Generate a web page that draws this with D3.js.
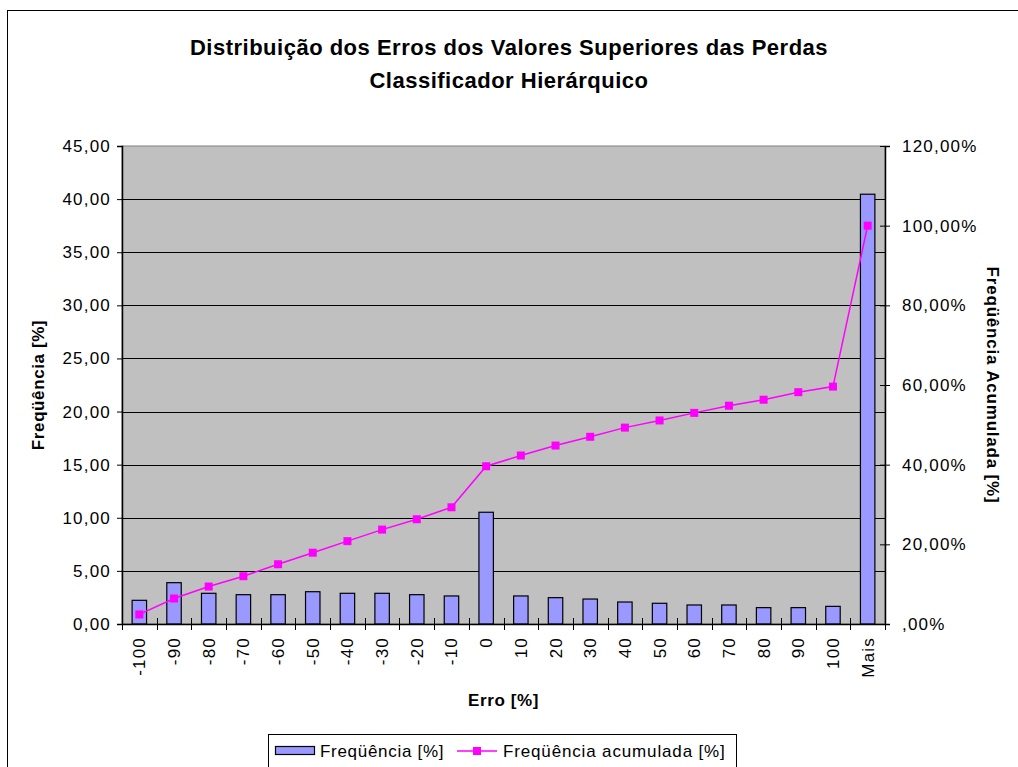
<!DOCTYPE html>
<html><head><meta charset="utf-8">
<script src="https://cdn.jsdelivr.net/npm/d3@7"></script>
<style>
html,body{margin:0;padding:0;background:#fff;}
text{font-family:"Liberation Sans",Arial,sans-serif;fill:#000;}
</style></head>
<body><svg id="c" width="1018" height="767"></svg>
<script>
const categories = ["-100","-90","-80","-70","-60","-50","-40","-30","-20","-10","0","10","20","30","40","50","60","70","80","90","100","Mais"];
const frequencia = [2.23,3.89,2.89,2.76,2.76,3.04,2.89,2.89,2.76,2.64,10.52,2.64,2.48,2.35,2.07,1.95,1.79,1.79,1.54,1.54,1.66,40.46];
const acumulada = [2.4,6.4,9.4,12.0,15.0,17.9,20.8,23.7,26.3,29.3,39.6,42.3,44.8,47.0,49.3,51.1,53.0,54.8,56.3,58.2,59.6,100.0];
const leftTicks = [0,5,10,15,20,25,30,35,40,45];
const leftTickLabels = ["0,00","5,00","10,00","15,00","20,00","25,00","30,00","35,00","40,00","45,00"];
const rightTicks = [0,20,40,60,80,100,120];
const rightTickLabels = [",00%","20,00%","40,00%","60,00%","80,00%","100,00%","120,00%"];
const titleLines = ["Distribuição dos Erros dos Valores Superiores das Perdas","Classificador Hierárquico"];

const FONT = "'Liberation Sans',Arial,sans-serif";
const svg = d3.select("#c");
const L = 122, R = 885, T = 146, B = 624;
const x = d3.scaleBand().domain(categories).range([L, R]).padding(0);
const y = d3.scaleLinear().domain([0, 45]).range([B, T]);
const y2 = d3.scaleLinear().domain([0, 120]).range([B, T]);

// outer border
svg.append("rect").attr("x",7.5).attr("y",10.5).attr("width",1200).attr("height",1000)
  .attr("fill","#fff").attr("stroke","#000").attr("stroke-width",1);

// title
svg.append("g").selectAll("text").data(titleLines).join("text")
  .attr("x",509).attr("y",(d,i)=>55+i*33).attr("text-anchor","middle")
  .attr("font-size","22px").attr("font-weight","bold").attr("letter-spacing","0.5px")
  .text(d=>d);

// plot area
svg.append("rect").attr("x",L).attr("y",T).attr("width",R-L).attr("height",B-T)
  .attr("fill","#C0C0C0").attr("stroke","#808080").attr("stroke-width",1);

// gridlines
svg.append("g").selectAll("line").data(leftTicks.filter(t=>t>0 && t<45)).join("line")
  .attr("x1",L).attr("x2",R).attr("y1",d=>Math.round(y(d))+0.5).attr("y2",d=>Math.round(y(d))+0.5)
  .attr("stroke","#000").attr("stroke-width",1);

// bars
const bw = x.bandwidth()/2.4;
svg.append("g").selectAll("rect").data(categories).join("rect")
  .attr("x",(d)=>x(d)+x.bandwidth()/2-bw/2)
  .attr("y",(d,i)=>y(frequencia[i]))
  .attr("width",bw)
  .attr("height",(d,i)=>B-y(frequencia[i]))
  .attr("fill","#9999FF").attr("stroke","#000").attr("stroke-width",1.2);

// left axis
const gl = svg.append("g").attr("transform",`translate(${L},0)`)
  .call(d3.axisLeft(y).tickValues(leftTicks).tickFormat((d,i)=>leftTickLabels[i]).tickSize(5).tickPadding(6));
gl.select(".domain").attr("stroke","#000").attr("stroke-width",1.5);
gl.selectAll(".tick line").attr("stroke","#000");
gl.selectAll(".tick text").attr("font-size","17px").attr("letter-spacing","1.2px").attr("font-family",FONT);

// right axis
const gr = svg.append("g").attr("transform",`translate(${R},0)`)
  .call(d3.axisRight(y2).tickValues(rightTicks).tickFormat((d,i)=>rightTickLabels[i]).tickSize(5).tickPadding(12));
gr.select(".domain").attr("stroke","#000").attr("stroke-width",1.5);
gr.selectAll(".tick line").attr("stroke","#000").attr("x1",-5);
gr.selectAll(".tick text").attr("font-size","17px").attr("letter-spacing","1.2px").attr("font-family",FONT);

// bottom axis
const gb = svg.append("g").attr("transform",`translate(0,${B})`)
  .call(d3.axisBottom(x).tickSize(0).tickPadding(0));
gb.select(".domain").attr("stroke","#000").attr("stroke-width",1.5);
gb.selectAll(".tick text").attr("font-size","17px").attr("letter-spacing","1.2px")
  .attr("font-family",FONT)
  .attr("text-anchor","end").attr("dy",null).attr("y",0)
  .attr("transform","translate(6,13) rotate(-90)");
// category boundary ticks
const bounds = categories.map(c=>x(c)).concat([R]);
svg.append("g").selectAll("line").data(bounds).join("line")
  .attr("x1",d=>Math.round(d)+0.5).attr("x2",d=>Math.round(d)+0.5)
  .attr("y1",B-6).attr("y2",B+6).attr("stroke","#000").attr("stroke-width",1);

// line
const line = d3.line().x((d,i)=>x(categories[i])+x.bandwidth()/2).y(d=>y2(d));
svg.append("path").datum(acumulada).attr("d",line).attr("fill","none")
  .attr("stroke","#FF00FF").attr("stroke-width",1.5);
svg.append("g").selectAll("rect").data(acumulada).join("rect")
  .attr("x",(d,i)=>x(categories[i])+x.bandwidth()/2-4).attr("y",d=>y2(d)-4)
  .attr("width",8).attr("height",8).attr("fill","#FF00FF");

// axis titles
svg.append("text").attr("transform",`translate(44,${(T+B)/2}) rotate(-90)`).attr("text-anchor","middle")
  .attr("font-size","17px").attr("font-weight","bold").attr("letter-spacing","0.6px").text("Freqüência [%]");
svg.append("text").attr("transform",`translate(987,${(T+B)/2}) rotate(90)`).attr("text-anchor","middle")
  .attr("font-size","17px").attr("font-weight","bold").attr("letter-spacing","0.8px").text("Freqüência Acumulada [%]");
svg.append("text").attr("x",(L+R)/2).attr("y",706).attr("text-anchor","middle")
  .attr("font-size","17px").attr("font-weight","bold").attr("letter-spacing","0.6px").text("Erro [%]");

// legend
const lg = svg.append("g");
lg.append("rect").attr("x",268.5).attr("y",734.5).attr("width",468).attr("height",60)
  .attr("fill","#fff").attr("stroke","#000").attr("stroke-width",1);
lg.append("rect").attr("x",275.5).attr("y",746.5).attr("width",39).attr("height",8)
  .attr("fill","#9999FF").attr("stroke","#000").attr("stroke-width",1.2);
lg.append("text").attr("x",320).attr("y",757).attr("font-size","17px").attr("letter-spacing","0.7px").text("Freqüência [%]");
lg.append("line").attr("x1",457).attr("x2",497).attr("y1",751).attr("y2",751).attr("stroke","#FF00FF").attr("stroke-width",1.5);
lg.append("rect").attr("x",473).attr("y",747).attr("width",8).attr("height",8).attr("fill","#FF00FF");
lg.append("text").attr("x",503).attr("y",757).attr("font-size","17px").attr("letter-spacing","0.85px").text("Freqüência acumulada [%]");
</script></body></html>
